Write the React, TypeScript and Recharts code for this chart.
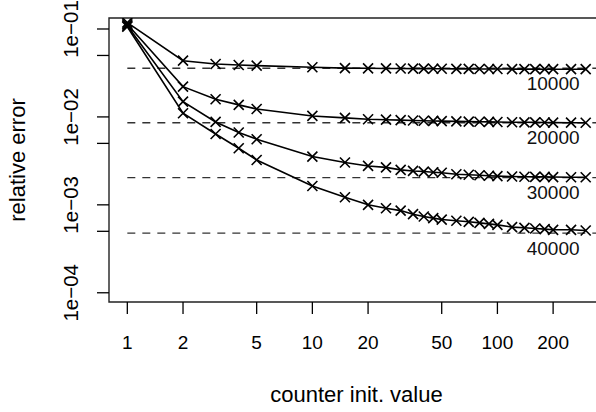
// Erro relativo vs. valor inicial do contador, eixos log-log, estilo gráfico base do R.
import {
  ComposedChart, Line, XAxis, YAxis, ReferenceLine, ReferenceDot, ReferenceArea,
} from "recharts";

const counterInit = [1, 2, 3, 4, 5, 10, 15, 20, 25, 30, 35, 40, 45, 50, 60, 70, 80, 90, 100, 120, 140, 160, 180, 200, 250, 300];

const err10000 = [0.118, 0.0436, 0.040, 0.039, 0.0383, 0.0367, 0.0359, 0.0357, 0.0356, 0.0355, 0.0354, 0.0354, 0.0353, 0.0353, 0.0352, 0.0352, 0.0351, 0.0351, 0.0351, 0.035, 0.035, 0.035, 0.0349, 0.0349, 0.0349, 0.0349];
const err20000 = [0.113, 0.0221, 0.0159, 0.0137, 0.0123, 0.01026, 0.00975, 0.0094, 0.0093, 0.0092, 0.0091, 0.00905, 0.009, 0.00895, 0.0089, 0.00885, 0.0088, 0.00878, 0.00875, 0.0087, 0.00868, 0.00866, 0.00864, 0.00862, 0.0086, 0.00858];
const err30000 = [0.109, 0.0149, 0.00877, 0.00664, 0.00558, 0.00354, 0.00303, 0.00277, 0.00267, 0.0025, 0.00243, 0.00239, 0.00235, 0.00232, 0.00223, 0.0022, 0.00217, 0.00214, 0.00212, 0.0021, 0.00209, 0.00208, 0.00208, 0.00207, 0.00206, 0.00206];
const err40000 = [0.106, 0.011, 0.0064, 0.0044, 0.00324, 0.00164, 0.00122, 0.001, 0.000916, 0.00086, 0.000783, 0.000736, 0.000706, 0.00068, 0.00066, 0.000641, 0.000624, 0.000608, 0.000592, 0.000558, 0.000548, 0.000538, 0.00053, 0.00052, 0.00052, 0.000511];

// linhas tracejadas (valor teórico) e rótulos
const refNames = ["10000", "20000", "30000", "40000"];
const refValues = [0.0357, 0.0086, 0.00204, 0.000477];

const xTicks = [1, 2, 5, 10, 20, 50, 100, 200];
const yTicks = [1e-1, 5e-2, 1e-2, 5e-3, 1e-3, 5e-4, 1e-4];
const yTickLabels = ["1e\u221201", "", "1e\u221202", "", "1e\u221203", "", "1e\u221204"];

const X_MIN = Math.pow(10, -0.099);
const X_MAX = Math.pow(10, 2.576);
const Y_MIN = Math.pow(10, -4.105);
const Y_MAX = Math.pow(10, -0.875);

const dados = counterInit.map((x, i) => ({
  x, e1: err10000[i], e2: err20000[i], e3: err30000[i], e4: err40000[i],
}));

const FONT = "'Liberation Sans', Arial, Helvetica, sans-serif";
const FS = 19;
const FS_TITLE = 22;

function Cruz(props: any) {
  const { cx, cy, index, dataKey } = props;
  if (cx == null || cy == null) return null;
  const s = 5;
  return (
    <path key={`${dataKey}-${index}`} d={`M${cx - s},${cy - s}L${cx + s},${cy + s}M${cx - s},${cy + s}L${cx + s},${cy - s}`}
      stroke="#000" strokeWidth={1.6} fill="none" />
  );
}

function YTick(props: any) {
  const { x, y, payload } = props;
  const i = yTicks.indexOf(payload.value);
  const txt = i >= 0 ? yTickLabels[i] : "";
  if (!txt) return null;
  return (
    <text x={x} y={y} transform={`rotate(-90 ${x} ${y})`} textAnchor="middle"
      fontSize={20.5} fontFamily={FONT} fill="#000">{txt}</text>
  );
}

function YTitle() {
  const cx = 25, cy = 160;
  return (
    <text x={cx} y={cy} transform={`rotate(-90 ${cx} ${cy})`} textAnchor="middle"
      fontSize={FS_TITLE} fontFamily={FONT} fill="#000">relative error</text>
  );
}

export default function App() {
  const series = ["e1", "e2", "e3", "e4"];
  return (
    <div style={{ position: "absolute", left: 0, top: 0, width: 596, height: 412, overflow: "hidden", background: "#fff" }}>
      <ComposedChart width={620} height={412} data={dados} margin={{ top: 18, right: 16, left: 0, bottom: 0 }}>
        <XAxis dataKey="x" type="number" scale="log" domain={[X_MIN, X_MAX]} allowDataOverflow ticks={xTicks}
          axisLine={false} tickSize={12} tickMargin={22} height={110} interval={0}
          tickLine={{ stroke: "#000", strokeWidth: 1.3 }}
          tick={{ fill: "#000", fontSize: FS, fontFamily: FONT }}
          label={{ value: "counter init. value", position: "insideBottom", offset: 10, fill: "#000", fontSize: FS_TITLE, fontFamily: FONT }} />
        <YAxis type="number" scale="log" domain={[Y_MIN, Y_MAX]} allowDataOverflow ticks={yTicks} interval={0}
          axisLine={false} tickSize={12} tickMargin={19} width={109}
          tickLine={{ stroke: "#000", strokeWidth: 1.3 }}
          tick={<YTick />} label={<YTitle />} />
        <ReferenceArea x1={X_MIN} x2={X_MAX} y1={Y_MIN} y2={Y_MAX} fill="none" fillOpacity={0}
          stroke="#222" strokeWidth={1.4} ifOverflow="visible" />
        {refValues.map((v, i) => (
          <ReferenceLine key={refNames[i]} segment={[{ x: 1, y: v }, { x: X_MAX, y: v }]}
            stroke="#333" strokeWidth={1.4} strokeDasharray="8 7" ifOverflow="visible" />
        ))}
        {refValues.map((v, i) => (
          <ReferenceDot key={"lbl" + refNames[i]} x={200} y={v} r={0} fill="none" stroke="none" ifOverflow="visible"
            label={{ value: refNames[i], position: "bottom", offset: 8, fill: "#111", fontSize: FS, fontFamily: FONT }} />
        ))}
        {series.map(k => (
          <Line key={k} dataKey={k} type="linear" stroke="#000" strokeWidth={1.6}
            dot={Cruz} activeDot={false} isAnimationActive={false} />
        ))}
      </ComposedChart>
    </div>
  );
}
